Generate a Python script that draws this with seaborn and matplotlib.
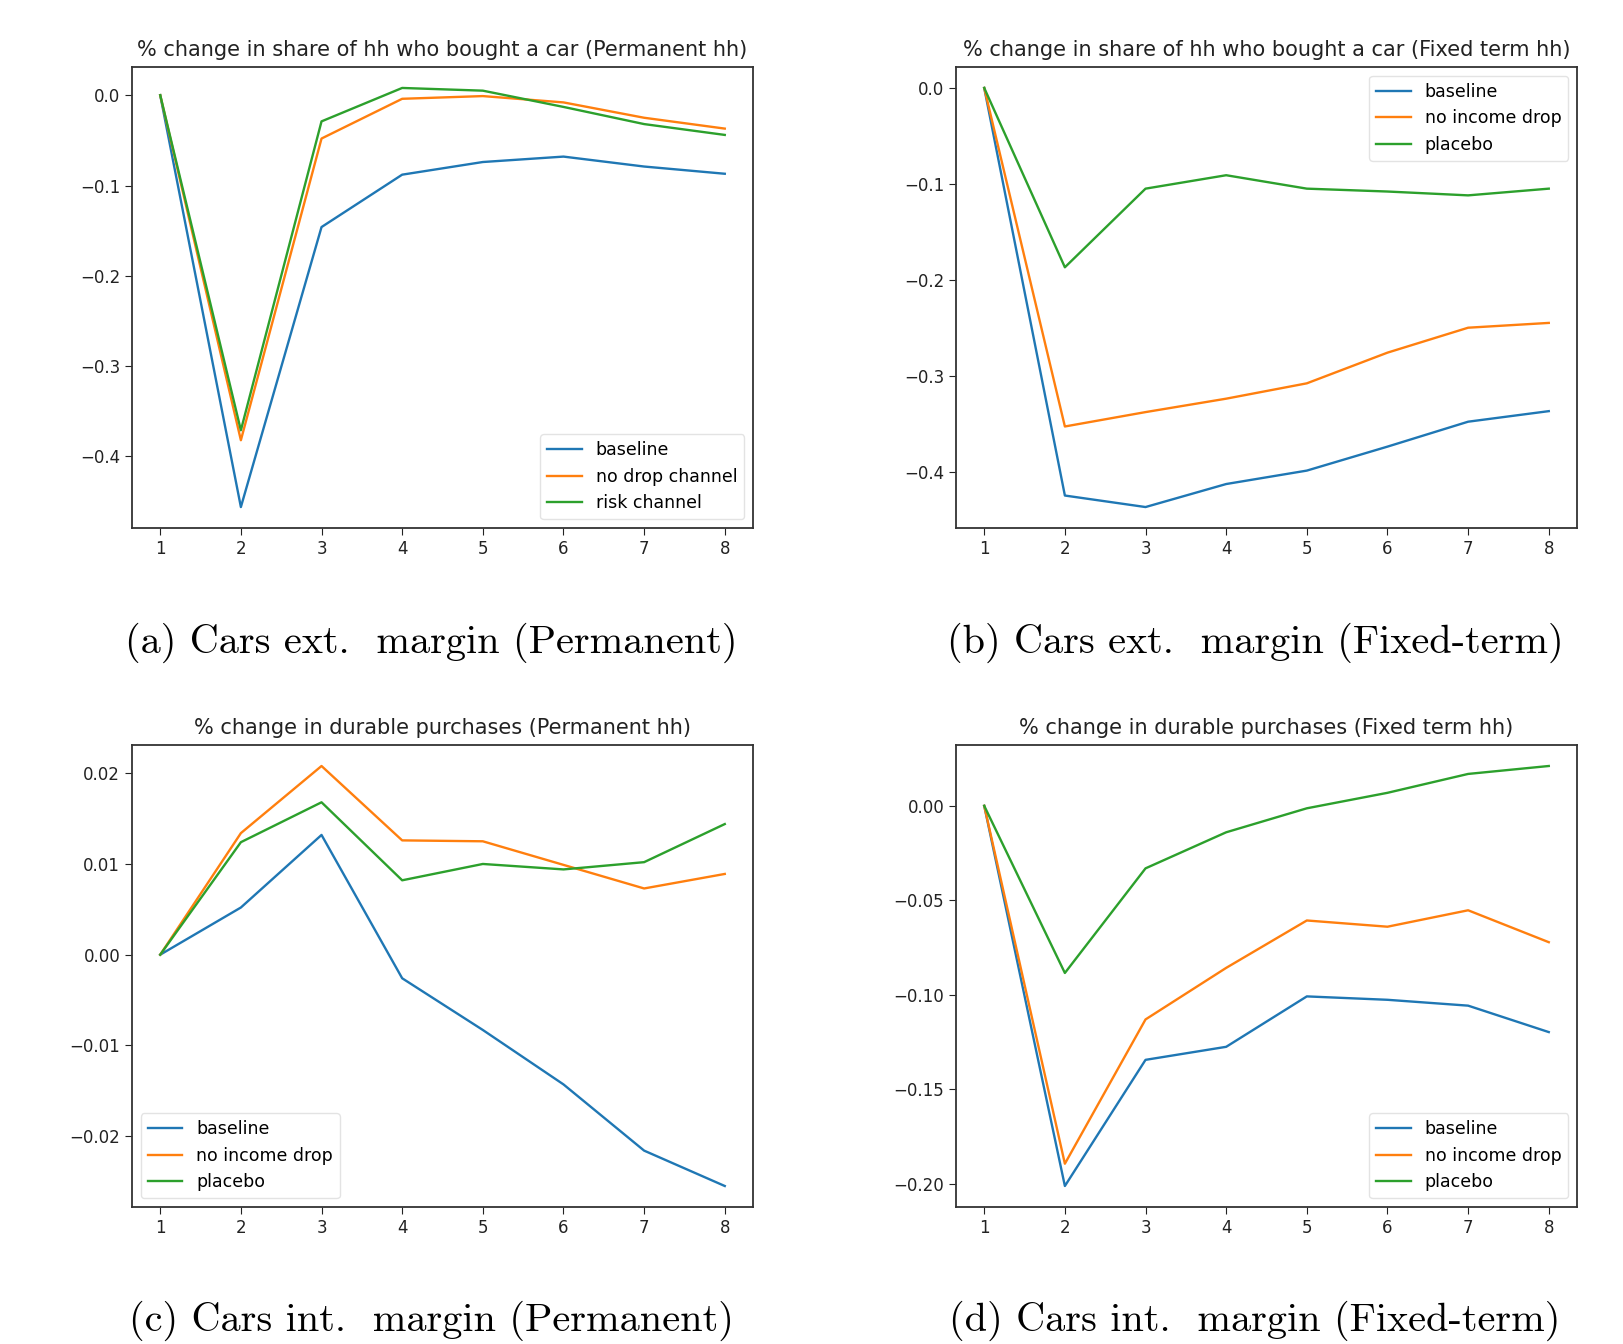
import matplotlib
matplotlib.use("Agg")
import matplotlib.pyplot as plt
import numpy as np
import pandas as pd
import seaborn as sns

periods = [1, 2, 3, 4, 5, 6, 7, 8]

# (a) cars ext. margin, permanent hh
a_baseline = [0.0, -0.456, -0.146, -0.088, -0.074, -0.068, -0.079, -0.087]
a_no_drop = [0.0, -0.382, -0.048, -0.004, -0.001, -0.008, -0.025, -0.037]
a_risk = [0.0, -0.371, -0.029, 0.008, 0.005, -0.013, -0.032, -0.044]

# (b) cars ext. margin, fixed-term hh
b_baseline = [0.0, -0.425, -0.437, -0.413, -0.399, -0.374, -0.348, -0.337]
b_no_income = [0.0, -0.353, -0.338, -0.324, -0.308, -0.276, -0.250, -0.245]
b_placebo = [0.0, -0.187, -0.105, -0.091, -0.105, -0.108, -0.112, -0.105]

# (c) cars int. margin, permanent hh
c_baseline = [0.0, 0.0052, 0.0132, -0.0026, -0.0083, -0.0143, -0.0216, -0.0255]
c_no_income = [0.0, 0.0134, 0.0208, 0.0126, 0.0125, 0.0099, 0.0073, 0.0089]
c_placebo = [0.0, 0.0124, 0.0168, 0.0082, 0.0100, 0.0094, 0.0102, 0.0144]

# (d) cars int. margin, fixed-term hh
d_baseline = [0.0, -0.2013, -0.1345, -0.1276, -0.1009, -0.1027, -0.1058, -0.1198]
d_no_income = [0.0, -0.1895, -0.1131, -0.0858, -0.0607, -0.0640, -0.0553, -0.0722]
d_placebo = [0.0, -0.0885, -0.0331, -0.0140, -0.0013, 0.0069, 0.0169, 0.0211]

titles = [
    "% change in share of hh who bought a car (Permanent hh)",
    "% change in share of hh who bought a car (Fixed term hh)",
    "% change in durable purchases (Permanent hh)",
    "% change in durable purchases (Fixed term hh)",
]
captions = [
    "(a) Cars ext.  margin (Permanent)",
    "(b) Cars ext.  margin (Fixed-term)",
    "(c) Cars int.  margin (Permanent)",
    "(d) Cars int.  margin (Fixed-term)",
]

panels = [
    ({"baseline": a_baseline, "no drop channel": a_no_drop, "risk channel": a_risk}, "lower right"),
    ({"baseline": b_baseline, "no income drop": b_no_income, "placebo": b_placebo}, "upper right"),
    ({"baseline": c_baseline, "no income drop": c_no_income, "placebo": c_placebo}, "lower left"),
    ({"baseline": d_baseline, "no income drop": d_no_income, "placebo": d_placebo}, "lower right"),
]

W, H = 1624, 1344
# axes boxes in pixels: left, top, right, bottom
boxes = [
    (132, 67, 753, 528),
    (956, 67, 1577, 528),
    (132, 745, 753, 1207),
    (956, 745, 1577, 1207),
]
caption_y = [643, 643, 1321, 1321]

fig = plt.figure(figsize=(W / 100, H / 100), dpi=100)
palette = ["#1f77b4", "#ff7f0e", "#2ca02c"]

for i, ((series, loc), box) in enumerate(zip(panels, boxes)):
    l, t, r, b = box
    ax = fig.add_axes([l / W, 1 - b / H, (r - l) / W, (b - t) / H])

    df = pd.concat([
        pd.DataFrame({"period": periods, "value": vals, "scenario": name})
        for name, vals in series.items()
    ])
    sns.lineplot(data=df, x="period", y="value", hue="scenario",
                 palette=palette, ax=ax, linewidth=1.7)

    ax.set_title(titles[i], fontsize=15, color="#222222", pad=8)
    ax.set_xlabel("")
    ax.set_ylabel("")
    ax.set_xticks(periods)
    ax.tick_params(labelsize=12, length=5, colors="#222222")
    for s in ax.spines.values():
        s.set_color("#333333")
        s.set_linewidth(1.3)
    leg = ax.legend(loc=loc, fontsize=12.5, title=None)
    leg.get_frame().set_edgecolor("#dddddd")

    fig.text((l + r) / 2 / W - 0.007, 1 - caption_y[i] / H, captions[i],
             family="cmr10", fontsize=29, ha="center", va="center")

plt.savefig("out.png", dpi=100)
